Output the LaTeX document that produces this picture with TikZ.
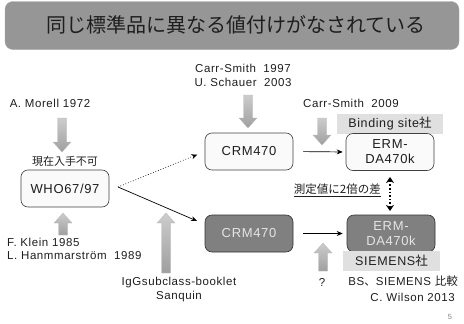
\documentclass[tikz,border=0pt]{standalone}
\usepackage{fontspec}
\setmainfont{Liberation Sans}
\newfontfamily\jp{Noto Sans CJK JP}
\newfontfamily\labfont[LetterSpace=5]{Liberation Sans}
\usetikzlibrary{arrows.meta,calc}
\definecolor{titlegray}{RGB}{150,150,150}
\definecolor{boxdark}{RGB}{128,128,128}
\definecolor{labelbg}{RGB}{224,224,224}
\definecolor{txt}{RGB}{30,30,30}
\newcommand{\blkdown}[3]{% x, ytail, ytip
  \shade[top color=gray!40, bottom color=gray!75, draw=gray!55, line width=0.3pt]
    (#1-4.5,#2) -- (#1+4.5,#2) -- (#1+4.5,#3-10) -- (#1+9,#3-10) -- (#1,#3)
    -- (#1-9,#3-10) -- (#1-4.5,#3-10) -- cycle;}
\newcommand{\blkup}[3]{% x, ytail, ytip
  \shade[top color=gray!40, bottom color=gray!75, draw=gray!55, line width=0.3pt]
    (#1-4.5,#2) -- (#1+4.5,#2) -- (#1+4.5,#3+10) -- (#1+9,#3+10) -- (#1,#3)
    -- (#1-9,#3+10) -- (#1-4.5,#3+10) -- cycle;}
\begin{document}
\begin{tikzpicture}[x=1pt,y=-1pt,
  lab/.style={font=\labfont\fontsize{11.5}{13}\selectfont, text=txt, inner sep=0pt},
  boxlight/.style={draw=black!75, fill=gray!4, rounded corners=7pt, minimum width=88pt,
    minimum height=37pt, font=\labfont\fontsize{13}{15}\selectfont, align=center, text=txt,
    line width=0.6pt, inner sep=1pt},
  boxdk/.style={boxlight, fill=boxdark, text=gray!20, draw=black!80},
  tagbox/.style={fill=labelbg, minimum height=20pt, inner sep=0pt,
    font=\labfont\fontsize{12.5}{14}\selectfont, text=txt},
  conn/.style={line width=0.7pt, -{Stealth[length=6pt,width=5pt]}},
  dconn/.style={line width=0.7pt, dotted, -{Stealth[length=6pt,width=5pt]}}
]
\useasboundingbox (0,0) rectangle (464,324);
% title
\node[fill=titlegray, draw=gray!70, rounded corners=8pt, minimum width=454pt,
  minimum height=48pt, inner sep=0pt] (title) at (232,25.5) {};
\node[font=\jp\fontsize{20}{24}\selectfont, text=txt, inner sep=0pt]
  (titletext) at (236,24.5) {同じ標準品に異なる値付けがなされている};

% labels top
\node[lab] (cs97) at (243,68) {Carr-Smith\ \ 1997};
\node[lab] (sch) at (243,82) {U. Schauer\ \ 2003};
\node[lab] (mor) at (50,103) {A. Morell 1972};
\node[lab] (cs09) at (351,103) {Carr-Smith\ \ 2009};
\node[lab, font=\jp\fontsize{11}{13}\selectfont] (noavail) at (65,161) {現在入手不可};

% block arrows (down)
\blkdown{62}{118}{152}
\blkdown{248}{95}{128}
\blkdown{322}{118}{145}

% boxes
\node[boxlight] (who) at (65,188.5) {WHO67/97};
\node[boxlight] (crm1) at (249,151.5) {CRM470};
\node[tagbox, minimum width=106pt] (bs) at (390,124) {Binding site{\jp 社}};
\node[boxlight] (erm1) at (390,152) {ERM-\\DA470k};
\node[boxdk] (crm2) at (249,233.5) {CRM470};
\node[boxdk] (erm2) at (391,233.5) {ERM-\\DA470k};
\node[tagbox, minimum width=97pt] (sie) at (391.5,261) {SIEMENS{\jp 社}};

% connectors
\coordinate (whoout) at (118,187);
\coordinate (crm2in) at (197,221);
\draw[dconn, shorten >=8pt] (whoout) -- (crm1.west);
\draw[conn] (whoout) -- (crm2in);
\draw[conn, shorten <=10pt, shorten >=3pt] (crm1.east) -- (erm1.west);
\draw[conn, shorten <=10pt, shorten >=4pt] (crm2.east) -- (erm2.west);

% difference
\node[lab, anchor=east, font=\jp\fontsize{11.5}{13}\selectfont] (diff) at (381,190)
  {\underline{測定値に2倍の差}};
\coordinate (dtop) at (390,177);
\coordinate (dbot) at (390,211);
\draw[line width=1.6pt, dotted, {Stealth[length=6pt,width=8pt]}-{Stealth[length=6pt,width=8pt]}]
  (dtop) -- (dbot);

% block arrows (up)
\blkup{63}{235}{213}
\blkup{166}{273}{213}
\blkup{323}{271}{243}

% bottom labels
\node[lab, anchor=west] (klein) at (7,242) {F. Klein 1985};
\node[lab, anchor=west] (hamm) at (7,256) {L. Hanmmarstr\"om\ \ 1989};
\node[lab, align=center] (igg) at (179,289.5) {IgGsubclass-booklet\\[1pt]Sanquin};
\node[lab] (q) at (322,282) {?};
\node[lab, anchor=east] (bscmp) at (458,281) {BS{\jp 、}SIEMENS {\jp 比較}};
\node[lab, anchor=east] (wil) at (455,297) {C. Wilson 2013};
\node[font=\fontsize{7.5}{8}\selectfont, text=gray, inner sep=0pt] (pg) at (450,317) {5};
\end{tikzpicture}
\end{document}
